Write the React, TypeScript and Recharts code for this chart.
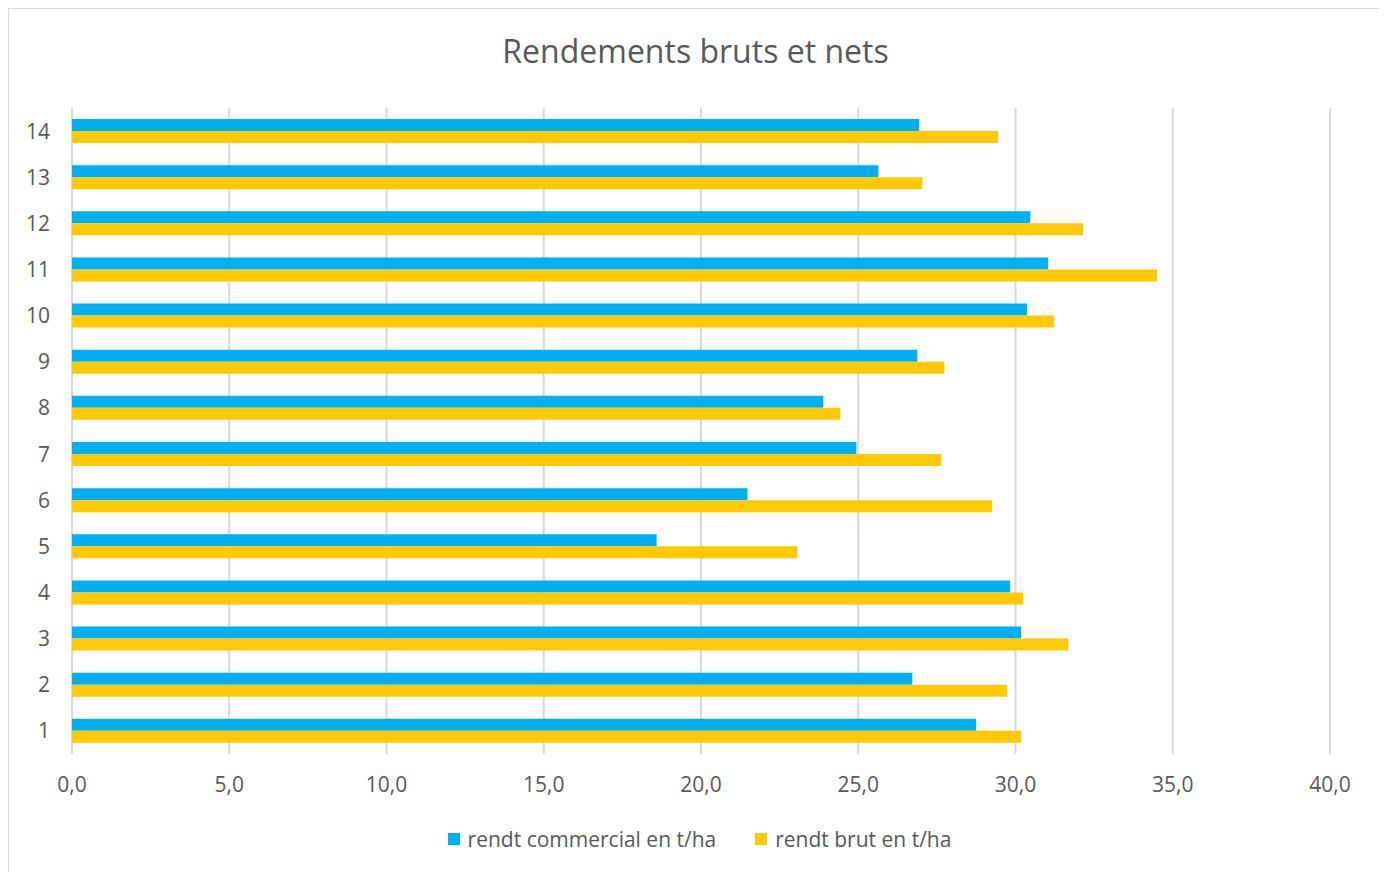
import { BarChart, Bar, XAxis, YAxis, CartesianGrid, Legend } from "recharts";

const categories = ["1", "2", "3", "4", "5", "6", "7", "8", "9", "10", "11", "12", "13", "14"];
const commercial = [28.75, 26.72, 30.18, 29.83, 18.59, 21.48, 24.94, 23.89, 26.88, 30.37, 31.04, 30.47, 25.64, 26.94];
const brut = [30.18, 29.74, 31.68, 30.25, 23.07, 29.26, 27.64, 24.43, 27.74, 31.23, 34.5, 32.15, 27.04, 29.45];
const xTicks = [0, 5, 10, 15, 20, 25, 30, 35, 40];
const seriesNames = ["rendt commercial en t/ha", "rendt brut en t/ha"];
const seriesColors = ["#00B0F0", "#FFC906"];

const data = categories.map((c, i) => ({
  cat: c,
  commercial: commercial[i],
  brut: brut[i],
}));

const FONT = "'Open Sans', sans-serif";
const GREY = "#595959";

// fixed order, recharts sorts the payload otherwise
const renderLegend = () => (
  <div style={{ display: "flex", justifyContent: "center", gap: 39, paddingTop: 11, paddingLeft: 60, fontFamily: FONT, fontSize: 21, color: GREY }}>
    {seriesNames.map((name, i) => (
      <div key={name} style={{ display: "flex", alignItems: "center" }}>
        <span style={{ width: 12, height: 12, background: seriesColors[i], display: "inline-block", marginRight: 8 }} />
        <span>{name}</span>
      </div>
    ))}
  </div>
);

export default function App() {
  return (
    <div style={{ width: 1373, height: 870, border: "1px solid #d9d9d9", position: "relative", background: "#fff" }}>
      <div style={{ position: "absolute", top: 20, left: 0, width: "100%", textAlign: "center", fontFamily: FONT, fontSize: 32, color: GREY }}>
        Rendements bruts et nets
      </div>
      <BarChart
        width={1373}
        height={862}
        data={data}
        layout="vertical"
        margin={{ top: 99, right: 52, bottom: 0, left: 0 }}
        barGap={0}
      >
        <CartesianGrid horizontal={false} stroke="#d9d9d9" strokeWidth={2} />
        <XAxis
          type="number"
          domain={[0, 40]}
          ticks={xTicks}
          tickFormatter={(v: number) => v.toFixed(1).replace(".", ",")}
          axisLine={false}
          tickLine={false}
          tickSize={0}
          tickMargin={23}
          height={60}
          tick={{ fill: GREY, fontSize: 21, fontFamily: FONT }}
        />
        <YAxis
          type="category"
          dataKey="cat"
          reversed
          width={63}
          axisLine={false}
          tickLine={false}
          tickSize={0}
          tickMargin={22}
          tick={{ fill: GREY, fontSize: 21, fontFamily: FONT }}
        />
        <Legend verticalAlign="bottom" height={57} content={renderLegend} />
        <Bar dataKey="commercial" name={seriesNames[0]} fill={seriesColors[0]} barSize={12} isAnimationActive={false} />
        <Bar dataKey="brut" name={seriesNames[1]} fill={seriesColors[1]} barSize={12} isAnimationActive={false} />
      </BarChart>
    </div>
  );
}
